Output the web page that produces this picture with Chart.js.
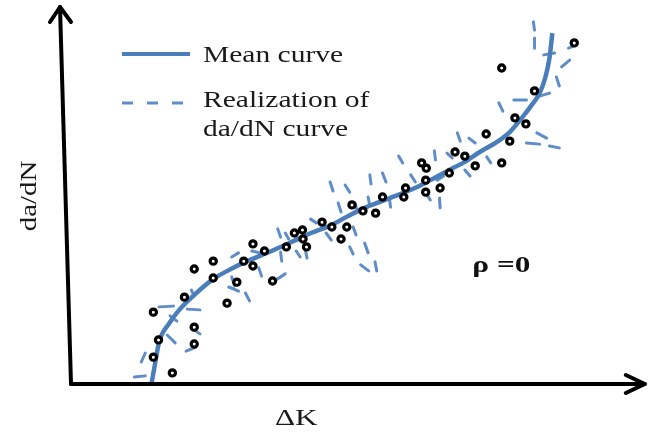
<!DOCTYPE html>
<html>
<head>
<meta charset="utf-8">
<script src="https://cdn.jsdelivr.net/npm/chart.js@4.4.1/dist/chart.umd.min.js"></script>
<style>
  html, body { margin: 0; padding: 0; background: #ffffff; }
  #wrap { width: 654px; height: 438px; }
</style>
</head>
<body>
<div id="wrap"><canvas id="c" width="654" height="438"></canvas></div>
<script>
// ---- Data (arbitrary units: ΔK 0..100, da/dN 0..100) ----
const meanDK = [14.0,14.5,15.3,17.1,18.8,21.0,24.5,27.4,30.3,33.1,36.0,39.0,41.7,45.2,48.1,51.0,54.0,56.7,59.7,62.4,65.3,68.3,71.0,74.0,76.2,78.3,80.0,81.4,82.4,83.1,83.6];
const meanDadN = [0,4.3,10.9,16.0,19.5,22.9,27.5,30.1,32.3,34.1,36.0,38.1,40.0,42.1,44.5,46.7,48.5,50.1,52.0,54.1,56.5,58.9,61.6,64.3,66.9,70.7,74.1,77.3,81.6,86.7,93.3];

const obsDK = [17.6,14.3,15.2,21.4,21.4,14.3,19.7,27.1,21.4,24.7,24.7,28.8,30.0,31.6,31.6,33.6,35.0,37.4,38.8,40.2,40.3,40.9,43.6,45.3,47.9,46.9,48.8,50.7,52.9,54.1,57.8,58.1,60.9,61.7,61.6,61.6,64.1,65.7,66.7,68.4,70.2,72.1,74.8,76.2,77.1,79.0,80.5,74.8,87.4];
const obsDadN = [2.7,6.9,11.5,10.4,14.9,18.9,22.9,21.3,30.4,32.5,28.0,26.9,32.5,37.1,31.2,35.2,27.2,36.3,40.0,40.8,38.4,36.3,42.9,41.6,41.6,38.4,47.5,45.9,45.3,49.6,49.6,52.0,58.7,57.3,54.1,50.9,52.0,56.0,61.6,60.5,57.9,66.4,58.7,64.5,70.7,69.1,77.9,84.0,90.7];

// realization fragments: start / end of each short piece
const realX1 = [11.0,12.2,15.3,20.2,17.2,16.7,20.9,20.0,20.9,27.9,27.9,27.4,30.3,32.6,31.4,35.3,35.9,37.2,36.4,39.1,41.6,40.7,45.0,47.6,51.9,54.1,56.9,59.0,63.1,46.4,49.3,51.6,55.3,44.3,49.0,48.4,51.0,50.3,52.8,63.6,67.1,69.1,65.3,68.4,72.2,61.6,64.0,80.3,80.5,82.1,86.4,85.2,84.3,81.4,76.9,74.3,80.9,83.1,79.1];
const realY1 = [1.6,5.6,20.3,19.7,17.9,12.8,14.7,8.5,24.8,33.6,28.3,25.6,24.0,30.7,35.2,27.2,41.1,40.0,34.9,35.2,43.7,35.5,53.6,52.8,55.5,56.0,60.5,55.5,61.9,48.0,48.0,49.6,49.3,40.0,41.6,36.3,37.3,31.5,32.3,54.1,66.7,65.3,61.3,56.8,60.3,50.7,49.3,96.3,92.0,87.5,89.3,84.3,81.6,76.5,75.5,74.7,66.7,63.2,64.0];
const realX2 = [12.9,12.9,17.8,22.4,18.4,18.1,22.4,21.7,21.4,29.1,28.4,29.1,31.0,33.1,32.8,37.2,36.4,37.8,36.6,39.8,42.6,41.0,45.5,48.4,52.1,54.7,57.6,59.8,63.3,46.9,49.8,51.9,55.5,45.2,49.5,49.0,51.6,51.7,53.1,64.7,67.6,70.2,66.2,69.3,72.9,62.4,64.1,80.5,80.5,84.0,87.4,86.6,84.8,83.1,79.1,75.0,82.6,84.8,81.4];
const realY2 = [1.9,8.0,20.5,19.5,16.5,10.7,13.1,9.6,23.2,34.7,25.9,24.5,21.9,28.5,34.7,29.1,38.9,38.4,32.5,33.6,42.7,33.3,51.2,50.9,53.1,53.6,58.7,53.6,59.5,45.6,45.6,47.2,46.9,38.1,39.5,34.4,34.7,29.9,29.9,55.2,64.5,64.0,60.0,55.2,58.7,48.8,46.7,94.1,89.3,88.0,89.9,86.1,79.2,77.3,75.5,72.5,65.3,62.7,63.7];

const xTitle = 'ΔK';
const yTitle = 'da/dN';
const legendLabels = ['Mean curve', 'Realization of', 'da/dN curve'];
const rhoLabel = 'ρ =0';

// ---- build datasets ----
const meanData = meanDK.map((x, i) => ({ x: x, y: meanDadN[i] }));
const obsData = obsDK.map((x, i) => ({ x: x, y: obsDadN[i] }));
const realData = [];
realX1.forEach((x, i) => {
  realData.push({ x: x, y: realY1[i] });
  realData.push({ x: realX2[i], y: realY2[i] });
  realData.push({ x: realX2[i], y: null });
});

const BLUE = '#4a7ebb';
const BLUE2 = '#5f8dc8';
const INK = '#1a1a1a';

function stretchedText(ctx, text, x, y, font, sx, color, align) {
  ctx.save();
  ctx.font = font;
  ctx.fillStyle = color;
  ctx.textBaseline = 'alphabetic';
  ctx.translate(x, y);
  ctx.scale(sx, 1);
  ctx.textAlign = align || 'left';
  ctx.fillText(text, 0, 0);
  ctx.restore();
}

const decor = {
  id: 'decor',
  afterDatasetsDraw(chart) {
    const ctx = chart.ctx;
    const a = chart.chartArea;
    const xs = chart.scales.x, ys = chart.scales.y;
    const x0 = xs.getPixelForValue(0), y0 = ys.getPixelForValue(0);
    ctx.save();
    ctx.strokeStyle = '#000';
    ctx.lineWidth = 4;
    ctx.lineCap = 'round';
    ctx.lineJoin = 'round';
    // y axis (slightly leaning, as in the reference)
    const tipY = { x: x0 - 11, y: a.top - 1 };
    ctx.beginPath();
    ctx.moveTo(x0, y0 + 1);
    ctx.lineTo(tipY.x, tipY.y);
    ctx.stroke();
    ctx.beginPath();
    ctx.moveTo(tipY.x - 10, tipY.y + 15);
    ctx.lineTo(tipY.x, tipY.y);
    ctx.lineTo(tipY.x + 11, tipY.y + 15);
    ctx.stroke();
    // x axis
    const tipX = { x: a.right - 2, y: y0 + 1 };
    ctx.beginPath();
    ctx.moveTo(x0, y0 + 1);
    ctx.lineTo(tipX.x, tipX.y);
    ctx.stroke();
    ctx.beginPath();
    ctx.moveTo(tipX.x - 19, tipX.y - 9);
    ctx.lineTo(tipX.x, tipX.y);
    ctx.lineTo(tipX.x - 19, tipX.y + 9);
    ctx.stroke();
    ctx.restore();

    const serif = '"Liberation Serif", "Times New Roman", serif';
    // axis titles
    stretchedText(ctx, xTitle, 275, 425, '24px ' + serif, 1.3, INK);
    ctx.save();
    ctx.translate(36, 196);
    ctx.rotate(-Math.PI / 2);
    stretchedText(ctx, yTitle, 0, 0, '24px ' + serif, 1.2, INK, 'center');
    ctx.restore();

    // legend
    ctx.save();
    ctx.strokeStyle = BLUE;
    ctx.lineWidth = 4;
    ctx.beginPath();
    ctx.moveTo(122, 54); ctx.lineTo(190, 54);
    ctx.stroke();
    ctx.strokeStyle = BLUE2;
    ctx.lineWidth = 3;
    ctx.setLineDash([11, 14]);
    ctx.beginPath();
    ctx.moveTo(122, 103); ctx.lineTo(190, 103);
    ctx.stroke();
    ctx.restore();
    stretchedText(ctx, legendLabels[0], 203, 62, '24px ' + serif, 1.23, INK);
    stretchedText(ctx, legendLabels[1], 203, 107, '24px ' + serif, 1.23, INK);
    stretchedText(ctx, legendLabels[2], 203, 136, '24px ' + serif, 1.23, INK);

    // rho annotation
    stretchedText(ctx, rhoLabel, xs.getPixelForValue(69.7), ys.getPixelForValue(29.6),
      'bold 23px ' + serif, 1.36, '#111');
  }
};

new Chart(document.getElementById('c'), {
  type: 'scatter',
  data: {
    datasets: [
      {
        label: 'Data',
        data: obsData,
        pointStyle: 'circle',
        pointRadius: 3.1,
        pointBorderWidth: 3.2,
        pointBorderColor: '#000',
        pointBackgroundColor: '#fff',
        showLine: false,
        order: 0
      },
      {
        label: 'Mean curve',
        data: meanData,
        showLine: true,
        borderColor: BLUE,
        borderWidth: 4.5,
        pointRadius: 0,
        tension: 0.4,
        cubicInterpolationMode: 'monotone',
        order: 1
      },
      {
        label: 'Realization of da/dN curve',
        data: realData,
        showLine: true,
        spanGaps: false,
        borderColor: BLUE2,
        borderWidth: 3,
        borderCapStyle: 'round',
        pointRadius: 0,
        tension: 0,
        order: 2
      }
    ]
  },
  options: {
    responsive: false,
    animation: false,
    layout: { padding: { left: 71, right: 3, top: 8, bottom: 55 } },
    plugins: { legend: { display: false }, tooltip: { enabled: false } },
    scales: {
      x: { type: 'linear', min: 0, max: 100, display: false },
      y: { type: 'linear', min: 0, max: 100, display: false }
    }
  },
  plugins: [decor]
});
</script>
</body>
</html>
